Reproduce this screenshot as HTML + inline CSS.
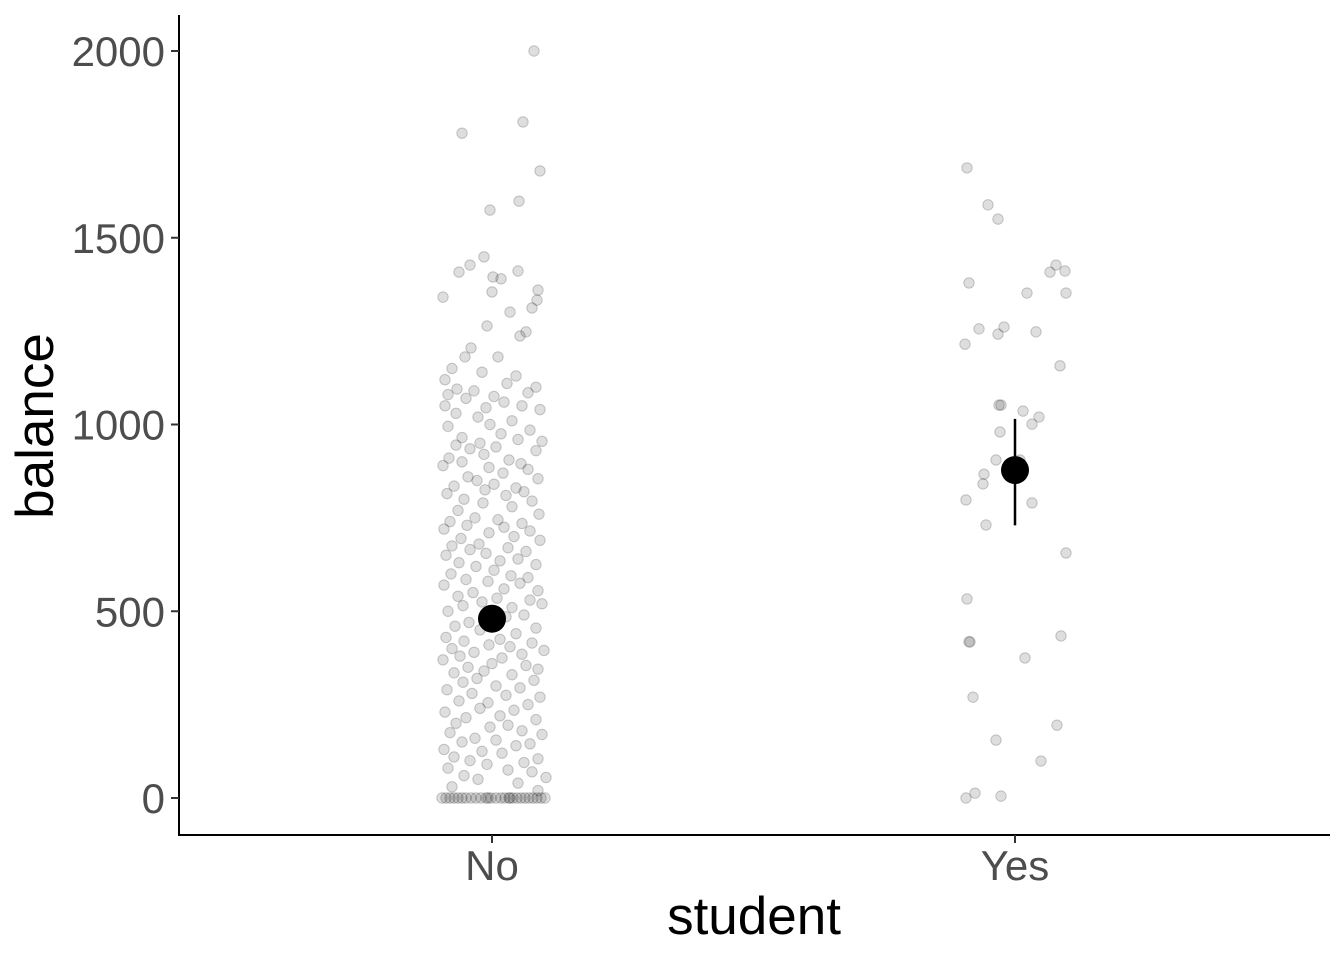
<!DOCTYPE html>
<html><head><meta charset="utf-8"><style>
body{margin:0;background:#fff;}
svg{display:block;font-family:"Liberation Sans",Arial,sans-serif;}
</style></head><body>
<svg id="chart" width="1344" height="960" viewBox="0 0 1344 960">
<g id="points"></g>
<g id="means"></g>
<line x1="179" y1="15" x2="179" y2="835" stroke="#000" stroke-width="2"/>
<line x1="178" y1="835" x2="1330" y2="835" stroke="#000" stroke-width="2"/>
<g id="yticks"></g>
<g id="xticks"></g>
<text x="754" y="934" font-size="53" text-anchor="middle">student</text>
<text transform="translate(53,426) rotate(-90)" font-size="53" text-anchor="middle">balance</text>
</svg>
<script>
const categories = ["No","Yes"];
const yTicks = [0,500,1000,1500,2000];
const meanValues = [480, 878];
const ciLow = [455, 730];
const ciHigh = [506, 1015];
const yesValues = [1687,1588,1550,1379,1427,1408,1411,1352,1352,1256,1261,1242,1215,1248,1157,1052,1052,1036,1020,1001,980,905,905,867,841,798,790,731,656,533,418,418,375,434,270,195,155,99,13,0,5];
const yesJitter = [-48,-27,-17,-46,41,35,50,51,12,-36,-11,-17,-50,21,45,-16,-14,8,24,17,-15,-19,5,-31,-32,-49,17,-29,51,-48,-45,-46,10,46,-42,42,-19,26,-40,-49,-14];
const noValues = [2000,1780,1810,1679,1574,1598,1341,1449,1427,1408,1411,1395,1390,1360,1333,1355,1301,1312,1264,1237,1248,1181,1205,1181,
1150,1140,1130,1120,1110,1100,1095,1090,1085,1080,1075,1070,1060,1050,1050,1045,1040,1030,1020,1010,1000,995,985,975,965,960,955,950,945,940,935,930,920,910,905,900,895,890,885,880,870,860,855,850,840,835,830,825,820,815,810,800,795,790,780,770,760,750,745,740,735,730,725,720,715,710,700,695,690,680,675,670,665,660,655,650,640,635,630,625,620,610,600,595,590,585,580,575,570,560,555,550,540,535,530,525,520,515,510,500,495,490,485,470,460,455,450,440,430,425,420,415,410,405,400,395,390,385,380,375,370,360,355,350,345,340,335,330,320,315,310,300,295,290,280,275,270,260,255,250,240,235,230,220,215,210,200,195,190,180,175,170,160,155,150,145,140,130,125,120,110,105,100,95,90,80,75,70,60,55,50,40,30,20,
0,0,0,0,0,0,0,0,0,0,0,0,0,0,0,0,0,0,0,0,0,0,0,0,0,0,0];
const noJitter = [42,-30,31,48,-2,27,-49,-8,-22,-33,26,1,9,46,45,0,18,40,-5,28,34,-27,-21,6,
-40,-10,24,-47,15,44,-35,-18,36,-44,2,-26,12,-47,30,-6,48,-36,-14,20,-2,-44,38,9,-30,26,50,-12,-36,4,-22,44,-8,-43,17,-30,29,-49,-3,36,11,-24,46,-15,2,-38,24,-7,32,-45,14,-28,40,-9,20,-34,47,-17,6,-42,30,-25,12,-48,38,-3,22,-31,48,-13,-40,16,-22,34,-6,-46,26,8,-33,44,-16,2,-41,19,36,-26,-4,28,-48,12,46,-19,-34,5,38,-10,50,-29,20,-44,-6,32,14,-23,-37,44,-12,24,-46,8,-28,40,-3,18,-40,52,-18,30,-32,10,-49,0,34,-24,46,-8,-38,20,-15,42,-29,4,28,-45,-20,14,48,-33,-4,36,-12,22,-47,8,-26,44,-36,16,-2,30,-42,50,-17,4,-30,38,24,-48,-10,10,-38,46,-22,32,-5,-44,16,40,-28,54,-14,26,-40,46,-4,18,
-50,-46,-42,-38,-34,-30,-26,-21,-16,-11,-6,-1,4,9,13,17,21,25,29,33,37,41,45,49,53,-44,15];
function xScale(i){ return 492 + i*523; }
function yScale(v){ return 798 - v*(798-51)/2000; }
const NS="http://www.w3.org/2000/svg";
const pg=document.getElementById('points');
function addPoints(vals,jit,ci){
  for(let k=0;k<vals.length;k++){
    const c=document.createElementNS(NS,'circle');
    
    
    c.setAttribute('cx',xScale(ci)+jit[k]);
    c.setAttribute('cy',yScale(vals[k]));
    c.setAttribute('r',5.2);
    c.setAttribute('fill','rgba(0,0,0,0.13)');
    c.setAttribute('stroke','rgba(0,0,0,0.2)');
    c.setAttribute('stroke-width','1');
    pg.appendChild(c);
  }
}
addPoints(noValues,noJitter,0);
addPoints(yesValues,yesJitter,1);
const mg=document.getElementById('means');
for(let i=0;i<categories.length;i++){
  const l=document.createElementNS(NS,'line');
  
  
  l.setAttribute('x1',xScale(i));l.setAttribute('x2',xScale(i));
  l.setAttribute('y1',yScale(ciLow[i]));l.setAttribute('y2',yScale(ciHigh[i]));
  l.setAttribute('stroke','#000');l.setAttribute('stroke-width','2.5');
  mg.appendChild(l);
  const c=document.createElementNS(NS,'circle');
  
  
  c.setAttribute('cx',xScale(i));c.setAttribute('cy',yScale(meanValues[i]));
  c.setAttribute('r',14);c.setAttribute('fill','#000');
  mg.appendChild(c);
}
const yt=document.getElementById('yticks');
yTicks.forEach(v=>{
  const y=yScale(v);
  const l=document.createElementNS(NS,'line');
  
  
  l.setAttribute('x1',171);l.setAttribute('x2',179);l.setAttribute('y1',y);l.setAttribute('y2',y);
  l.setAttribute('stroke','#333');l.setAttribute('stroke-width','2');
  yt.appendChild(l);
  const t=document.createElementNS(NS,'text');
  
  
  t.setAttribute('x',165);t.setAttribute('y',y+15);
  t.setAttribute('text-anchor','end');t.setAttribute('font-size','42');t.setAttribute('fill','#4d4d4d');
  t.textContent=v;
  yt.appendChild(t);
});
const xt=document.getElementById('xticks');
categories.forEach((c,i)=>{
  const x=xScale(i);
  const l=document.createElementNS(NS,'line');
  
  
  l.setAttribute('x1',x);l.setAttribute('x2',x);l.setAttribute('y1',835);l.setAttribute('y2',843);
  l.setAttribute('stroke','#333');l.setAttribute('stroke-width','2');
  xt.appendChild(l);
  const t=document.createElementNS(NS,'text');
  
  
  t.setAttribute('x',x);t.setAttribute('y',880);
  t.setAttribute('text-anchor','middle');t.setAttribute('font-size','42');t.setAttribute('fill','#4d4d4d');
  t.textContent=c;
  xt.appendChild(t);
});
</script>
</body></html>
